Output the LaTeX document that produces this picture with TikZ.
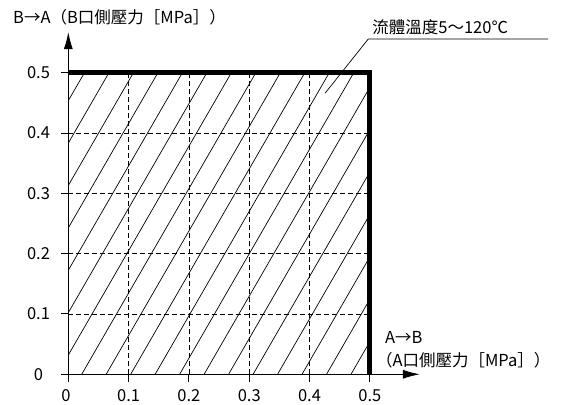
\documentclass[tikz,border=0pt]{standalone}
\usepackage{fontspec}
\setmainfont{Noto Sans CJK TC}
\usepackage{tikz}
\usetikzlibrary{arrows.meta}

\begin{document}
\begin{tikzpicture}[x=60.3pt, y=60.3pt, lbl/.style={inner sep=0pt, font=\fontsize{16.5}{19}\selectfont}, hatch/.style={line width=0.7pt}, gridline/.style={line width=0.7pt, dash pattern=on 5pt off 3pt}, axis/.style={line width=1pt}, bound/.style={line width=5pt, line cap=butt, line join=miter}, tip/.style={-{Latex[length=17pt,width=9pt]}}]
\useasboundingbox (-1.133,-0.509) rectangle (8.187,6.207);
% hatched area
\begin{scope}
\clip (0,0) rectangle (5,5);
\foreach \k in {-7,...,11}
  \draw[hatch] ({0.222+0.406*\k},0) -- ++(2.887,5);
\end{scope}
% grid
\foreach \i in {1,...,4} {
  \draw[gridline] (\i,0) -- (\i,5);
  \draw[gridline] (0,\i) -- (5,\i);
}
% axes
\coordinate (o) at (0,0);
\coordinate (xstart) at (-0.12,0);
\coordinate (ystart) at (0,-0.12);
\coordinate (xend) at (5.83,0);
\coordinate (yend) at (0,5.675);
\draw[axis, tip] (xstart) -- (xend);
\draw[axis, tip] (ystart) -- (yend);
\foreach \i in {1,...,5} {
  \draw[axis] (\i,0) -- (\i,-0.12);
  \draw[axis] (0,\i) -- (-0.12,\i);
  \node[lbl] (x\i) at (\i,-0.36) {0.\i};
  \node[lbl] (y\i) at (-0.494,\i) {0.\i};
}
\node[lbl] (x0) at (-0.04,-0.36) {0};
\node[lbl] (y0) at (-0.494,0) {0};
% limit
\draw[bound] (0,5) -- (5,5) -- (5,0);
% labels
\node[lbl, anchor=west] (ytitle) at (-0.917,5.925) {B→A（B口側壓力［MPa］）};
\node[lbl, anchor=west] (xtitle) at (5.25,0.604) {A→B};
\node[lbl, anchor=west] (xtitle2) at (5.1,0.237) {（A口側壓力［MPa］）};
\coordinate (lead) at (4.257,4.66);
\coordinate (knee) at (4.975,5.561);
\coordinate (leadend) at (7.955,5.561);
\node[lbl, anchor=west] (temp) at (5.04,5.76) {流體溫度5～120℃};
\draw[hatch] (lead) -- (knee) -- (leadend);
\end{tikzpicture}
\end{document}
